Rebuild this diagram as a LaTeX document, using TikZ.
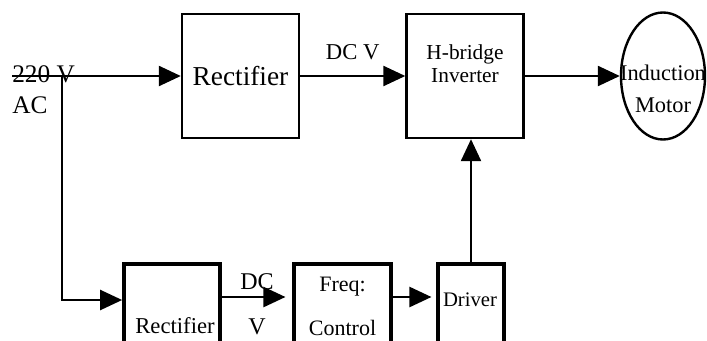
\documentclass[tikz,border=0pt]{standalone}
\usepackage{fontspec}
\setmainfont{Liberation Serif}
\usetikzlibrary{arrows.meta,positioning,shapes.geometric,calc}

\begin{document}
\begin{tikzpicture}[
    x=0.75pt, y=-0.75pt,
    topbox/.style={draw, line width=1.8pt, inner sep=0pt, minimum width=117*0.75pt, minimum height=124*0.75pt},
    lowbox/.style={draw, line width=2.8pt, inner sep=0pt, anchor=north, minimum height=160*0.75pt},
    txt/.style={inner sep=0pt, align=center},
    flow/.style={-{Triangle[length=16.5pt, width=15pt]}, line width=1.8pt}
]
    \useasboundingbox (0,0) rectangle (707,340);
    \clip (0,0) rectangle (707,340);

    % upper path
    \node[topbox, font=\fontsize{20.5}{24}\selectfont] (rect1) at (240.5,76) {Rectifier};
    \node[topbox] (hbridge) at (465,76) {};
    \node[txt, font=\fontsize{16}{17}\selectfont] (hbtext) at (465,64) {H-bridge\\Inverter};
    \node[draw, ellipse, line width=1.8pt, inner sep=0pt, minimum width=84*0.75pt, minimum height=127*0.75pt] (motor) at (663,76) {};
    \node[txt, font=\fontsize{16.8}{24}\selectfont] (mtext) at (663,89) {Induction\\Motor};

    % lower path
    \node[lowbox, minimum width=96*0.75pt] (rect2) at (172,262) {};
    \node[txt, font=\fontsize{17}{20}\selectfont] (r2text) at (175,326) {Rectifier};
    \node[lowbox, minimum width=97*0.75pt] (freq) at (342.5,262) {};
    \node[txt, font=\fontsize{16.5}{33}\selectfont] (ftext) at (342.5,306) {Freq:\\Control};
    \node[lowbox, minimum width=66*0.75pt] (driver) at (471,262) {};
    \node[txt, font=\fontsize{15.5}{18}\selectfont] (dtext) at (470,300) {Driver};

    % supply
    \node[txt, align=left, anchor=west, font=\fontsize{19}{23}\selectfont] (ac) at (12,90) {220 V\\AC};
    \coordinate (in) at (12,76);
    \coordinate (split) at (62,76);

    \draw[flow] (in) -- (rect1.west);
    \draw[flow] (rect1.east) -- node[above=11pt, txt, font=\fontsize{17}{20}\selectfont] (dcv) {DC V} (hbridge.west);
    \draw[flow] (hbridge.east) -- (motor.west);
    \draw[flow] (split) |- ([yshift=-28.5pt]rect2.north west);
    \draw[flow] ([yshift=-26.25pt]rect2.north east) -- ([yshift=-26.25pt, xshift=-5pt]freq.north west);
    \draw[flow] ([yshift=-26.25pt]freq.north east) -- ([yshift=-26.25pt, xshift=-3.5pt]driver.north west);
    \draw[flow] (driver.north) -- (driver.north |- hbridge.south);

    \node[txt, font=\fontsize{18}{34}\selectfont] (dcv2) at (257,304) {DC\\V};
\end{tikzpicture}
\end{document}
